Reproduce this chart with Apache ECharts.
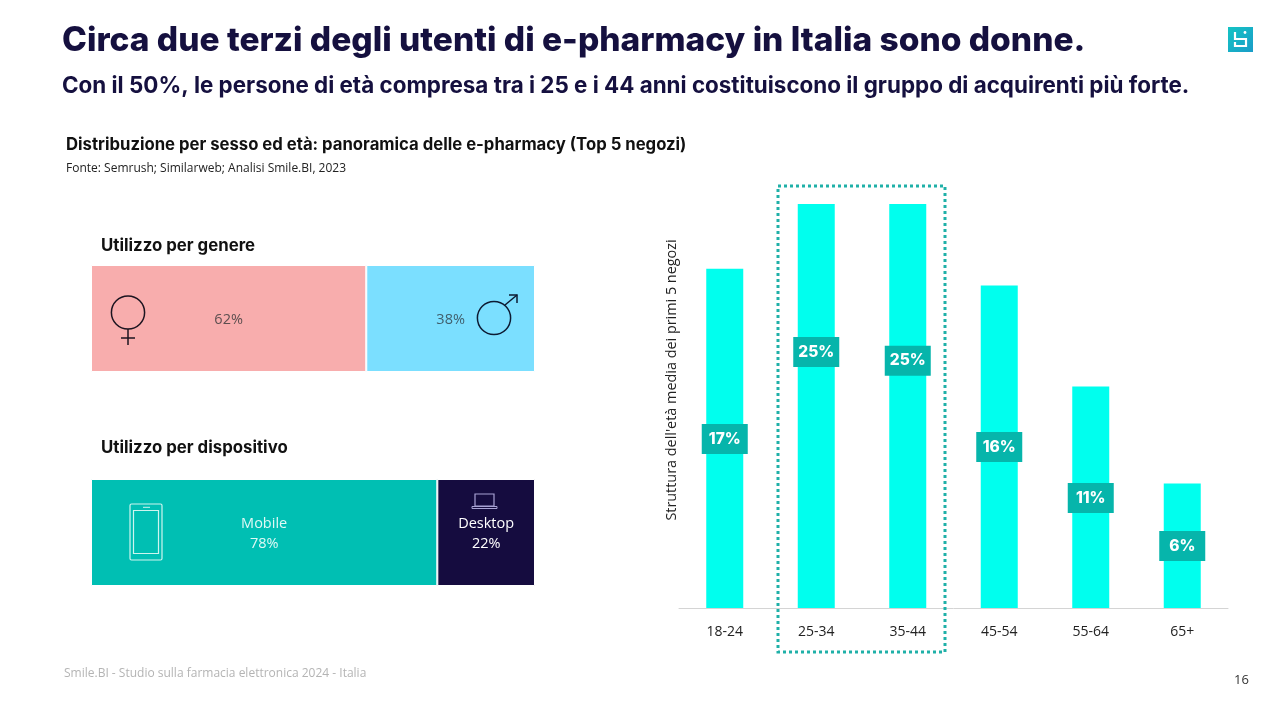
<!DOCTYPE html>
<html><head><meta charset="utf-8">
<style>html,body{margin:0;padding:0;background:#fff}#c{width:1280px;height:720px}</style>
<script src="https://cdn.jsdelivr.net/npm/echarts@6/dist/echarts.min.js"></script>
</head><body><div id="c"></div>
<script>
const ageCategories = ['18-24','25-34','35-44','45-54','55-64','65+'];
const barHeights = [21, 25, 25, 19.95, 13.7, 7.7];
const ageLabels = ['17%','25%','25%','16%','11%','6%'];
const labelAnchors = [10.46, 15.84, 15.3, 9.96, 6.8, 3.84];
const femaleShare = 62, maleShare = 38;
const mobileShare = 78, desktopShare = 22;

const wide = 'Inter, "DejaVu Sans", sans-serif';
const body = '"Open Sans", "Noto Sans", sans-serif';
const navy = '#15103f';
const txt = (x,y,text,font,size,weight,fill)=>({type:'text',x,y,silent:true,style:{text,fontFamily:font,fontSize:size,fontWeight:weight,fill,textVerticalAlign:'middle'}});
const stroke=(c,w)=>({stroke:c,lineWidth:w,fill:'none'});
const line=(x1,y1,x2,y2,c,w)=>({type:'line',silent:true,shape:{x1,y1,x2,y2},style:{stroke:c,lineWidth:w}});
const rect=(x,y,width,height,style)=>({type:'rect',silent:true,shape:{x,y,width,height},style});

const iconF='#1c1420', iconM='#0d1b33', iconP='#cdf5ef', iconL='#a8a2d4';
const graphics=[
 txt(62,41,'Circa due terzi degli utenti di e-pharmacy in Italia sono donne.',wide,33.5,800,navy),
 txt(62,86,'Con il 50%, le persone di età compresa tra i 25 e i 44 anni costituiscono il gruppo di acquirenti più forte.',wide,22.4,700,navy),
 txt(66,145,'Distribuzione per sesso ed età: panoramica delle e-pharmacy (Top 5 negozi)',wide,16.7,700,'#111'),
 txt(66,168.5,'Fonte: Semrush; Similarweb; Analisi Smile.BI, 2023',body,12,400,'#222'),
 txt(101,246,'Utilizzo per genere',wide,16.8,700,'#111'),
 txt(101,448,'Utilizzo per dispositivo',wide,16.8,700,'#111'),
 txt(64,674,'Smile.BI - Studio sulla farmacia elettronica 2024 - Italia',body,12,400,'#b4b4b4'),
 txt(1234,680,'16',body,13,400,'#333'),
 // logo
 rect(1228,27,25,25,{fill:new echarts.graphic.LinearGradient(0,0,1,1,[{offset:0,color:'#14c4c4'},{offset:1,color:'#1a9cc8'}])}),
 {type:'polyline',silent:true,shape:{points:[[1235,32],[1235,39],[1246,39],[1246,46],[1235,46],[1235,42]]},style:stroke('#fff',2.2)},
 {type:'circle',silent:true,shape:{cx:1245,cy:32.5,r:1.4},style:{fill:'#fff'}},
 // female icon
 {type:'circle',silent:true,z:10,shape:{cx:128,cy:312.5,r:16.6},style:stroke(iconF,1.5)},
 {...line(128,329,128,345,iconF,1.5),z:10},
 {...line(121,338,135,338,iconF,1.5),z:10},
 // male icon
 {type:'circle',silent:true,z:10,shape:{cx:494,cy:318,r:16.6},style:stroke(iconM,1.5)},
 {...line(505,305,517,295,iconM,1.5),z:10},
 {type:'polyline',silent:true,z:10,shape:{points:[[509,295],[517,295],[517,303]]},style:stroke(iconM,1.5)},
 // phone icon
 {type:'rect',silent:true,z:10,shape:{x:130,y:504,width:32,height:56,r:1.5},style:stroke(iconP,1.2)},
 {...rect(133.5,510.5,25,43,stroke(iconP,1.2)),z:10},
 {...line(143,507.3,150,507.3,iconP,1),z:10},
 // laptop icon
 {...rect(475,494,19,12,stroke(iconL,1.2)),z:10},
 {...rect(472,506.5,25,2,stroke(iconL,1)),z:10},
 // highlight box
 {type:'rect',silent:true,z:20,shape:{x:778,y:186,width:167,height:466},style:{fill:'none',stroke:'#1fb0a8',lineWidth:3,lineDash:[3,3]}}
];

const segLabel=(color,fn,dy)=>({show:true,position:'inside',offset:[0,dy],color,fontFamily:body,fontSize:14.5,lineHeight:20,formatter:fn});
const seg=(name,val,xi,color,labelColor,fn,dy)=>({name,type:'bar',stack:'s'+xi,xAxisIndex:xi,yAxisIndex:xi,barWidth:'100%',data:[val],
 itemStyle:{color,borderColor:'#fff',borderWidth:1},label:segLabel(labelColor,fn,dy),silent:true});

const option={
 animation:false,
 backgroundColor:'#fff',
 grid:[
  {left:91,top:265,width:444,height:107},
  {left:91,top:479,width:444,height:107},
  {left:679,top:204,width:549,height:404}
 ],
 xAxis:[
  {gridIndex:0,type:'value',min:0,max:100,show:false},
  {gridIndex:1,type:'value',min:0,max:100,show:false},
  {gridIndex:2,type:'category',data:ageCategories,axisLine:{lineStyle:{color:'#d4d4d4',width:1}},axisTick:{show:false},
   axisLabel:{color:'#222',fontFamily:body,fontSize:14,margin:17}}
 ],
 yAxis:[
  {gridIndex:0,type:'category',data:['Genere'],show:false},
  {gridIndex:1,type:'category',data:['Dispositivo'],show:false},
  {gridIndex:2,type:'value',min:0,max:25,splitNumber:1,axisLine:{show:false},axisTick:{show:false},axisLabel:{show:false},splitLine:{show:false},
   name:"Struttura dell'età media dei primi 5 negozi",nameLocation:'middle',nameRotate:90,nameGap:0,
   nameTextStyle:{color:'#222',fontFamily:body,fontSize:14.4,padding:[0,0,0,52]}}
 ],
 series:[
  seg('Donne',femaleShare,0,'#f8adad','#5d4f50',p=>p.value+'%',1),
  seg('Uomini',maleShare,0,'#7bdfff','#41606e',p=>p.value+'%',1),
  seg('Mobile',mobileShare,1,'#00bfb3','#dff9f5',p=>p.seriesName+'\n'+p.value+'%',1),
  seg('Desktop',desktopShare,1,'#150c3f','#fff',p=>p.seriesName+'\n'+p.value+'%',1),
  {name:'Età',type:'bar',xAxisIndex:2,yAxisIndex:2,barWidth:37,data:barHeights,itemStyle:{color:'#00ffee'},silent:true},
  {name:'Etichette',type:'scatter',xAxisIndex:2,yAxisIndex:2,symbolSize:0,data:labelAnchors,silent:true,z:5,
   itemStyle:{opacity:1},
   label:{show:true,position:'inside',formatter:p=>ageLabels[p.dataIndex],color:'#fff',fontFamily:wide,fontWeight:800,fontSize:15.5,
    backgroundColor:'#06b5ab',width:46,height:25,lineHeight:25,padding:[5,0,0,0],align:'center',verticalAlign:'middle'}}
 ],
 graphic:{elements:graphics}
};
const chart=echarts.init(document.getElementById('c'));
chart.setOption(option);
</script></body></html>
